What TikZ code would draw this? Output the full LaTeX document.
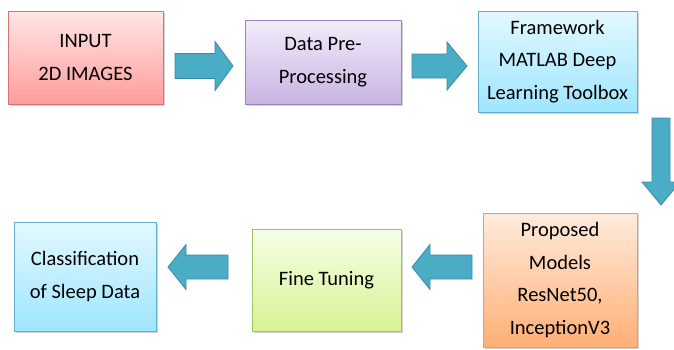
\documentclass[tikz,border=0pt]{standalone}
\usepackage{fontspec}
\setmainfont{Carlito}
\usetikzlibrary{shadows}
\definecolor{arrowfill}{HTML}{4BACC6}
\definecolor{arrowdraw}{HTML}{3A8CA3}
\definecolor{redtop}{HTML}{FFE6E6}
\definecolor{redbot}{HTML}{FF9C9C}
\definecolor{redline}{HTML}{D97272}
\definecolor{purtop}{HTML}{F2ECFA}
\definecolor{purbot}{HTML}{C9B3E3}
\definecolor{purline}{HTML}{9E82BE}
\definecolor{cyantop}{HTML}{E3F8FF}
\definecolor{cyanbot}{HTML}{9EE6FF}
\definecolor{cyanline}{HTML}{5FB2CF}
\definecolor{orgtop}{HTML}{FFEBDD}
\definecolor{orgbot}{HTML}{FFAF75}
\definecolor{orgline}{HTML}{F29A55}
\definecolor{grntop}{HTML}{F6FFE6}
\definecolor{grnbot}{HTML}{D6F294}
\definecolor{grnline}{HTML}{A3C466}
\tikzset{
  box/.style={rectangle, draw, line width=0.8pt, align=center, inner sep=0pt,
    font=\fontsize{20.5}{32.5}\selectfont,
    drop shadow={opacity=0.35, shadow xshift=1.5pt, shadow yshift=-2pt}},
  redbox/.style={box, draw=redline, top color=redtop, bottom color=redbot},
  purbox/.style={box, draw=purline, top color=purtop, bottom color=purbot},
  cyanbox/.style={box, draw=cyanline, top color=cyantop, bottom color=cyanbot},
  orgbox/.style={box, draw=orgline, top color=orgtop, bottom color=orgbot},
  grnbox/.style={box, draw=grnline, top color=grntop, bottom color=grnbot},
  blockarrow/.style={fill=arrowfill, draw=arrowdraw, line width=0.8pt, line join=miter}
}
\begin{document}
\begin{tikzpicture}[x=1pt,y=-1pt]
\useasboundingbox (0,0) rectangle (674,349);
\node[redbox, minimum width=155pt, minimum height=93pt] (input) at (85.5,57.5) {INPUT\\2D IMAGES};
\node[purbox, minimum width=156pt, minimum height=84pt] (prep) at (323,62) {Data Pre-\\Processing};
\node[cyanbox, minimum width=159pt, minimum height=101pt] (frame) at (557.5,61.5) {Framework\\MATLAB Deep\\Learning Toolbox};
\node[orgbox, minimum width=154pt, minimum height=134pt] (models) at (560,280) {Proposed\\Models\\ResNet50,\\InceptionV3};
\node[grnbox, minimum width=149pt, minimum height=102pt] (tune) at (326.5,280) {Fine Tuning};
\node[cyanbox, minimum width=142pt, minimum height=109pt] (classif) at (85,276.5) {Classification\\of Sleep Data};
% block arrows
\draw[blockarrow] (175,53.5) -- (215,53.5) -- (215,41.5) -- (233,66) -- (215,90.5) -- (215,78.5) -- (175,78.5) -- cycle;
\draw[blockarrow] (412,54) -- (447,54) -- (447,42) -- (467,66) -- (447,90) -- (447,78) -- (412,78) -- cycle;
\draw[blockarrow] (652,118) -- (670,118) -- (670,182) -- (680,182) -- (661,205) -- (642,182) -- (652,182) -- cycle;
\draw[blockarrow] (472,255) -- (430,255) -- (430,244.5) -- (412,267) -- (430,289.5) -- (430,279) -- (472,279) -- cycle;
\draw[blockarrow] (228,255) -- (186,255) -- (186,244.5) -- (168,267) -- (186,289.5) -- (186,279) -- (228,279) -- cycle;
\end{tikzpicture}
\end{document}
